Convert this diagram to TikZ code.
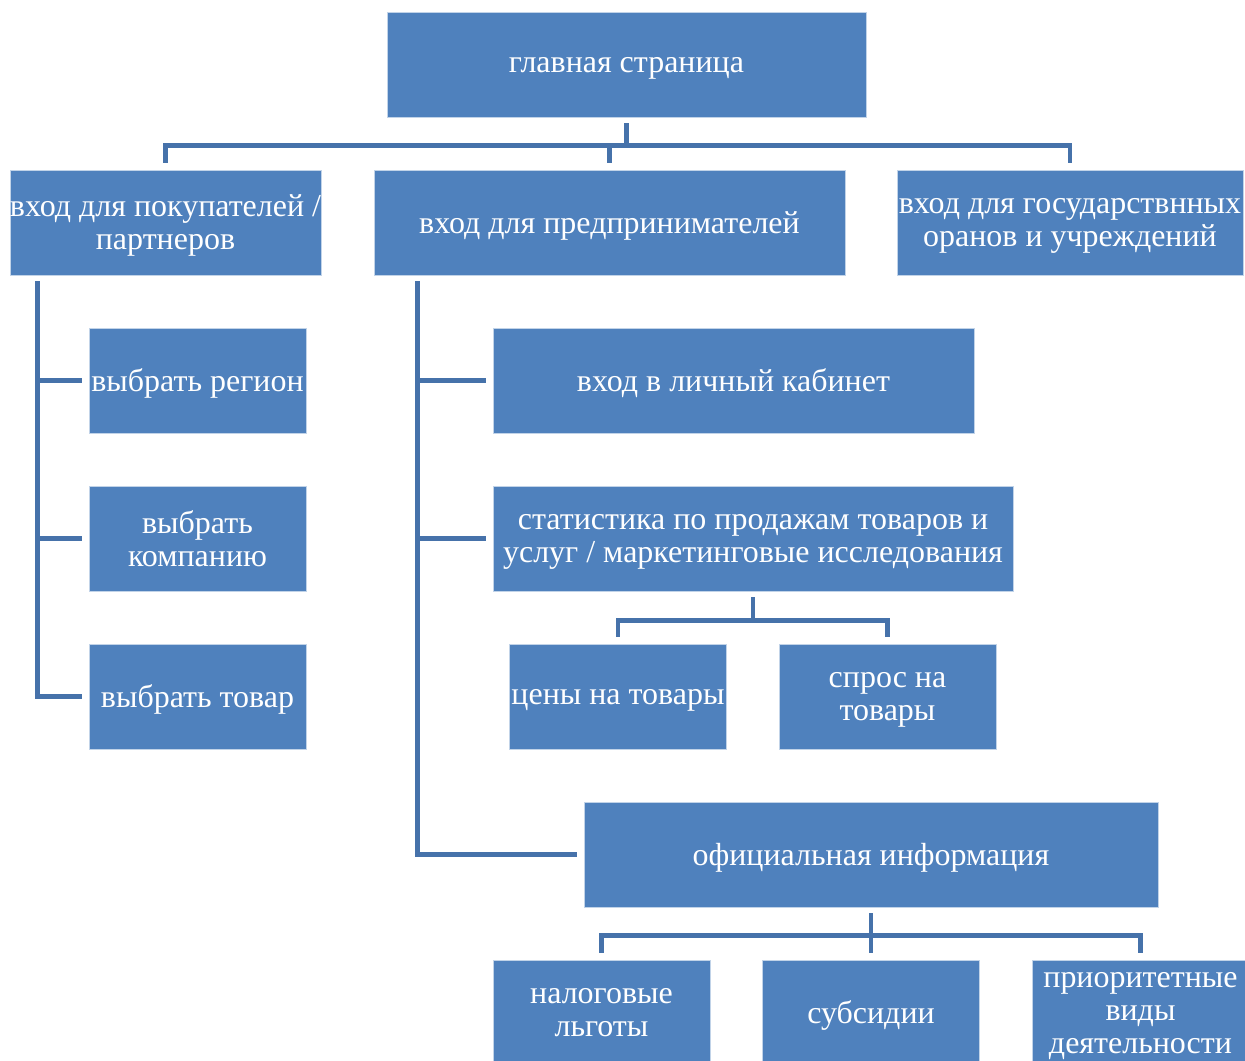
\documentclass[tikz,border=0pt]{standalone}
\usepackage{fontspec}
\setmainfont{Liberation Serif}
\usepackage{xcolor}
\definecolor{boxblue}{HTML}{4F81BD}
\definecolor{lineblue}{HTML}{4672AA}

\begin{document}
\begin{tikzpicture}[x=0.02cm,y=-0.02cm,
  box/.style={draw=white!65!boxblue, line width=0.4pt, fill=boxblue, text=white, align=center, inner sep=0pt, minimum height=2.1cm, text depth=0pt, font=\fontsize{18.2}{18.8}\selectfont},
  smallbox/.style={box, minimum width=4.34cm},
  conn/.style={lineblue, line width=2.8pt, shorten <=0.12cm, shorten >=0.14cm}]
\clip (0,0) rectangle (1245,1061);
\node[box, minimum width=9.58cm] (home) at (626.5,64.5) {главная страница};
\node[box, minimum width=6.22cm] (buyers) at (165.5,222.5) {вход для покупателей /\\партнеров};
\node[box, minimum width=9.42cm] (business) at (609.5,222.5) {вход для предпринимателей};
\node[box, minimum width=6.92cm] (state) at (1070,222.5) {вход для государствнных\\оранов и учреждений};
\node[smallbox] (region) at (197.5,380.5) {выбрать регион};
\node[smallbox] (company) at (197.5,538.5) {выбрать\\компанию};
\node[smallbox] (product) at (197.5,696.5) {выбрать товар};
\node[box, minimum width=9.62cm] (cabinet) at (733.5,380.5) {вход в личный кабинет};
\node[box, minimum width=10.4cm] (stats) at (753,538.5) {статистика по продажам товаров и\\услуг / маркетинговые исследования};
\node[smallbox] (prices) at (618,696.5) {цены на товары};
\node[smallbox] (demand) at (887.5,696.5) {спрос на\\товары};
\node[box, minimum width=11.48cm] (official) at (871,854.5) {официальная информация};
\node[smallbox] (tax) at (601.5,1012.5) {налоговые\\льготы};
\node[smallbox] (subsidy) at (871,1012.5) {субсидии};
\node[smallbox] (priority) at (1140.5,1012.5) {приоритетные\\виды\\деятельности};

\draw[conn] (home.south) -- ++(0,28) -| (buyers.north);
\draw[conn] (home.south) -- ++(0,28) -| (business.north);
\draw[conn] (home.south) -- ++(0,28) -| (state.north);
\draw[conn] ([xshift=0.56cm]buyers.south west) |- (region.west);
\draw[conn] ([xshift=0.56cm]buyers.south west) |- (company.west);
\draw[conn] ([xshift=0.56cm]buyers.south west) |- (product.west);
\draw[conn] ([xshift=0.88cm]business.south west) |- (cabinet.west);
\draw[conn] ([xshift=0.88cm]business.south west) |- (stats.west);
\draw[conn] ([xshift=0.88cm]business.south west) |- (official.west);
\draw[conn] (stats.south) -- ++(0,29) -| (prices.north);
\draw[conn] (stats.south) -- ++(0,29) -| (demand.north);
\draw[conn] (official.south) -- ++(0,28) -| (tax.north);
\draw[conn] (official.south) -- (subsidy.north);
\draw[conn] (official.south) -- ++(0,28) -| (priority.north);
\end{tikzpicture}
\end{document}
